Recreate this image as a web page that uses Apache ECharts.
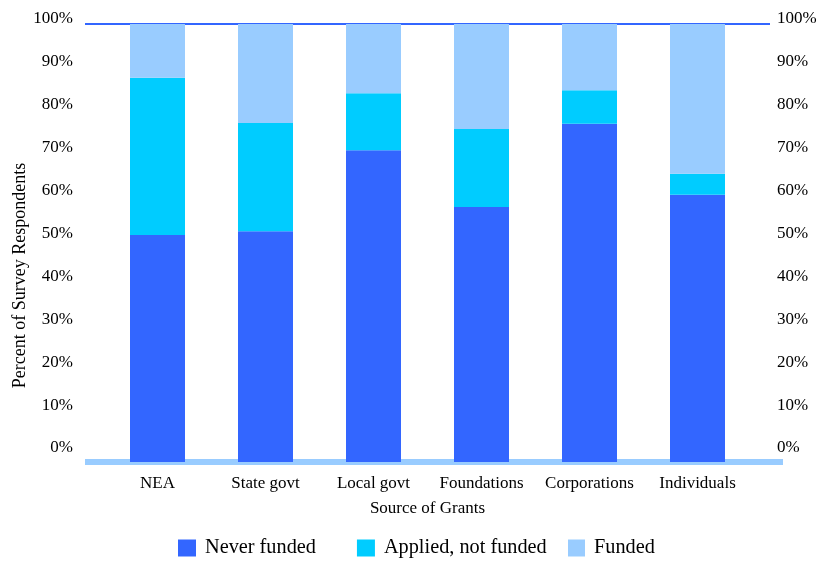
<!DOCTYPE html>
<html><head><meta charset="utf-8">
<script src="https://cdn.jsdelivr.net/npm/echarts@6/dist/echarts.min.js"></script>
<style>html,body{margin:0;padding:0;background:#fff}#c{width:827px;height:562px}</style>
</head><body><div id="c"></div>
<script>
const categories = ['NEA','State govt','Local govt','Foundations','Corporations','Individuals'];
const neverFunded = [51.8, 52.7, 71.2, 58.2, 77.2, 61.0];
const appliedNotFunded = [35.9, 24.7, 13.0, 17.8, 7.7, 4.8];
const funded = [12.3, 22.6, 15.8, 24.0, 15.1, 34.2];
const seriesNames = ['Never funded','Applied, not funded','Funded'];
const yTicks = {min: 0, max: 100, interval: 10};

const font = 'Liberation Serif, Times New Roman, serif';
const chart = echarts.init(document.getElementById('c'), null, {renderer: 'canvas'});
const colors = ['#3366FF', '#00CCFF', '#99CCFF'];
const values = [neverFunded, appliedNotFunded, funded];
const legendText = {fontFamily: font, fontSize: 20.3, color: '#000', padding: [0, 0, 0, 4]};

chart.setOption({
  animation: false,
  textStyle: {fontFamily: font, color: '#000'},
  grid: [
    {left: 103.5, width: 648, top: 24, height: 438},        // bars
    {left: 85, width: 685, top: 24, height: 438},           // top line
    {left: 85, width: 698, top: 24, height: 438},           // floor
    {left: 85, width: 685, top: 19, height: 429},           // tick labels
    {left: 85, width: 685, top: 148, height: 255}           // y title
  ],
  xAxis: [
    {gridIndex: 0, type: 'category', data: categories,
     axisLine: {show: false}, axisTick: {show: false},
     axisLabel: {fontFamily: font, fontSize: 17, color: '#000', margin: 13, interval: 0},
     name: 'Source of Grants', nameLocation: 'middle', nameGap: 38,
     nameTextStyle: {fontFamily: font, fontSize: 17, color: '#000'}},
    {gridIndex: 1, type: 'category', data: [''], position: 'top',
     axisLine: {show: true, onZero: false, lineStyle: {color: '#3366FF', width: 2, cap: 'butt'}},
     axisTick: {show: false}, axisLabel: {show: false}},
    {gridIndex: 2, type: 'category', data: [''], position: 'bottom',
     axisLine: {show: true, onZero: false, lineStyle: {color: '#99CCFF', width: 6, cap: 'butt'}},
     axisTick: {show: false}, axisLabel: {show: false}},
    {gridIndex: 3, type: 'category', data: [], show: false},
    {gridIndex: 4, type: 'category', data: [], show: false}
  ],
  yAxis: [
    {gridIndex: 0, type: 'value', min: yTicks.min, max: yTicks.max,
     axisLabel: {show: false}, axisLine: {show: false}, axisTick: {show: false}, splitLine: {show: false}},
    {gridIndex: 1, type: 'value', min: 0, max: 100, show: false},
    {gridIndex: 2, type: 'value', min: 0, max: 100, show: false},
    {gridIndex: 3, type: 'value', position: 'left', min: yTicks.min, max: yTicks.max, interval: yTicks.interval,
     axisLine: {show: false}, axisTick: {show: false}, splitLine: {show: false},
     axisLabel: {formatter: '{value}%', fontFamily: font, fontSize: 17, color: '#000', margin: 12}},
    {gridIndex: 3, type: 'value', position: 'right', min: yTicks.min, max: yTicks.max, interval: yTicks.interval,
     axisLine: {show: false}, axisTick: {show: false}, splitLine: {show: false},
     axisLabel: {formatter: '{value}%', fontFamily: font, fontSize: 17, color: '#000', margin: 7}},
    {gridIndex: 4, type: 'value', min: 0, max: 100,
     axisLabel: {show: false}, axisLine: {show: false}, axisTick: {show: false}, splitLine: {show: false},
     name: 'Percent of Survey Respondents', nameLocation: 'middle', nameRotate: 90, nameGap: 56,
     nameTextStyle: {fontFamily: font, fontSize: 18, color: '#000'}}
  ],
  legend: [
    {left: 178, top: 538, padding: 0, itemWidth: 18, itemHeight: 17, itemGap: 41, icon: 'rect',
     textStyle: legendText, data: seriesNames.slice(0, 2)},
    {left: 568, top: 538, padding: 0, itemWidth: 17, itemHeight: 17, icon: 'rect',
     textStyle: legendText, data: seriesNames.slice(2)}
  ],
  series: seriesNames.map((n, i) => ({
    name: n, type: 'bar', stack: 'total', xAxisIndex: 0, yAxisIndex: 0,
    data: values[i], barWidth: 55, z: 5,
    itemStyle: {color: colors[i]}
  }))
});
</script></body></html>
